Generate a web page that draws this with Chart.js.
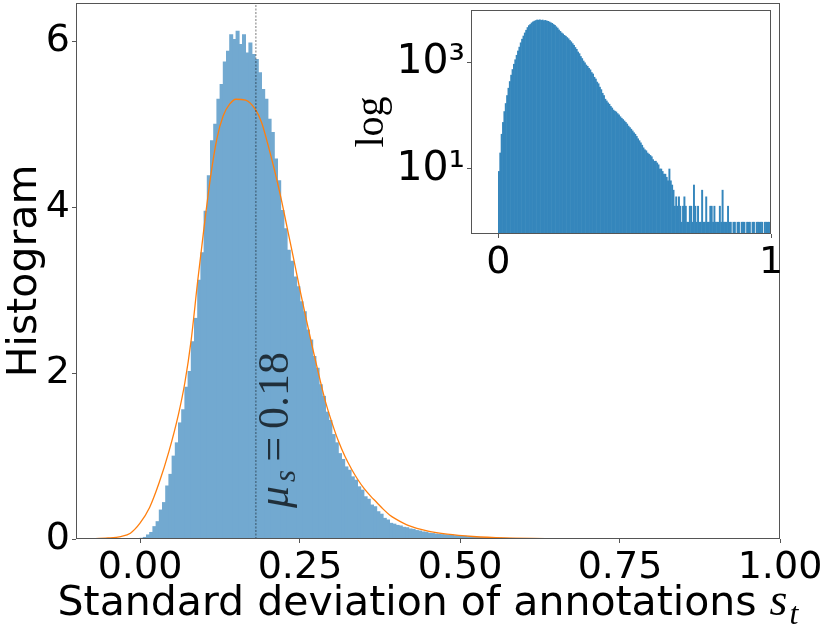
<!DOCTYPE html>
<html>
<head>
<meta charset="utf-8">
<script src="https://cdn.jsdelivr.net/npm/chart.js@4/dist/chart.umd.min.js"></script>
<style>
  html, body { margin: 0; padding: 0; background: #fff; }
  #wrap { position: relative; width: 830px; height: 629px; }
  #main { position: absolute; left: 0; top: 0; }
  #inset { position: absolute; left: 350px; top: 0; }
</style>
</head>
<body>
<div id="wrap">
  <canvas id="main" width="830" height="629"></canvas>
  <canvas id="inset" width="480" height="290"></canvas>
</div>
<script>
// histogram bins (width 0.005, starting at 0)
const binStart = 0;
const binWidth = 0.005;

// main panel: normalised histogram (density)
const densityValues = [
  0.01, 0.02, 0.05, 0.08, 0.15, 0.21, 0.35, 0.44, 0.64, 0.78,
  1.00, 1.16, 1.40, 1.56, 1.83, 2.02, 2.38, 2.66, 3.12, 3.45,
  3.95, 4.38, 4.80, 5.00, 5.30, 5.48, 5.75, 5.88, 6.08, 6.02,
  6.12, 5.96, 6.08, 5.86, 5.98, 5.84, 5.78, 5.62, 5.42, 5.30,
  5.06, 4.90, 4.58, 4.32, 3.96, 3.74, 3.48, 3.35, 3.16, 3.04,
  2.86, 2.74, 2.52, 2.40, 2.20, 2.06, 1.86, 1.72, 1.53, 1.43,
  1.26, 1.16, 1.03, 0.96, 0.87, 0.83, 0.75, 0.71, 0.63, 0.59,
  0.51, 0.48, 0.41, 0.39, 0.33, 0.30, 0.25, 0.23, 0.19, 0.18,
  0.165, 0.158, 0.142, 0.137, 0.122, 0.117, 0.103, 0.097, 0.086, 0.082,
  0.071, 0.067, 0.061, 0.059, 0.054, 0.052, 0.047, 0.046, 0.041, 0.040,
  0.035, 0.034, 0.029, 0.028, 0.024, 0.023, 0.020, 0.018, 0.016, 0.015,
  0.013, 0.012, 0.011, 0.010, 0.009, 0.008, 0.008, 0.007, 0.006, 0.006,
  0.005, 0.005, 0.004, 0.004, 0.004, 0.003, 0.003, 0.003, 0.002, 0.002,
  0.002, 0.002, 0.001, 0.002, 0.001, 0.001, 0.001, 0.001, 0.001, 0.001
];

// inset: raw counts per bin (log scale), null = empty bin
const countValues = [
  9, 20, 45, 75, 120, 170, 240, 330, 440, 580,
  740, 930, 1130, 1370, 1650, 1950, 2350, 2750, 3150, 3600,
  4050, 4550, 4950, 5200, 5550, 5800, 6000, 6150, 6300, 6250,
  6350, 6200, 6300, 6100, 6200, 6050, 5950, 5800, 5600, 5450,
  5200, 5000, 4700, 4450, 4100, 3850, 3600, 3450, 3250, 3120,
  2950, 2800, 2600, 2450, 2270, 2110, 1920, 1770, 1580, 1470,
  1300, 1190, 1070, 990, 900, 850, 780, 730, 650, 610,
  530, 490, 430, 400, 345, 310, 265, 240, 205, 190,
  175, 165, 150, 140, 128, 122, 118, 110, 104, 96,
  90, 85, 80, 75, 70, 64, 60, 56, 52, 48,
  45, 41, 37, 34, 31, 28, 25, 23, 22, 20,
  19, 18, 17, 15, 14, 14, 13, 12, 10, 10,
  9, 8, 8, 7, 6, 10, 6, 5, 4, 2,
  3, 2, 3, 2, 1, 2, 3, 2, 1, 1,
  2, 2, 1, 5, 2, 1, 2, 1, 1, 4,
  1, 1, 3, 1, 1, 2, 2, 1, 2, 1,
  1, 1, 2, 1, 4, 1, 1, 1, 2, 1,
  1, null, 1, 1, null, 1, 1, null, 1, 1,
  1, null, 1, 1, 1, null, 1, 1, null, 1,
  1, 1, 1, 1, null, 1, 1, 1, 1, 1
];

// fitted density curve (orange)
const fitX = [-0.1, -0.075, -0.05, -0.03, -0.015, 0, 0.015, 0.03, 0.045, 0.06,
  0.07, 0.08, 0.09, 0.1, 0.11, 0.12, 0.13, 0.14, 0.15, 0.165,
  0.18, 0.19, 0.2, 0.21, 0.22, 0.23, 0.24, 0.25, 0.26, 0.27,
  0.28, 0.29, 0.3, 0.31, 0.32, 0.33, 0.34, 0.35, 0.36, 0.37,
  0.38, 0.39, 0.4, 0.42, 0.45, 0.48, 0.52, 0.57, 0.65, 0.75, 1.0];
const fitY = [0, 0.004, 0.012, 0.03, 0.07, 0.19, 0.38, 0.68, 1.05, 1.5,
  1.88, 2.4, 3.1, 3.75, 4.35, 4.82, 5.1, 5.24, 5.3, 5.29,
  5.18, 5.02, 4.75, 4.45, 4.12, 3.75, 3.38, 3.0, 2.64, 2.29,
  1.96, 1.65, 1.4, 1.18, 1.0, 0.85, 0.72, 0.61, 0.52, 0.44,
  0.36, 0.29, 0.24, 0.16, 0.095, 0.058, 0.03, 0.012, 0.004, 0.001, 0];

const meanValue = 0.181;
const meanLabel = '0.18';

const xTicks = [0, 0.25, 0.5, 0.75, 1.0];
const xTickLabels = ['0.00', '0.25', '0.50', '0.75', '1.00'];
const yTicks = [0, 2, 4, 6];
const yTickLabels = ['0', '2', '4', '6'];
const insetXTicks = [0, 1];
const insetXTickLabels = ['0', '1'];
const insetYTicks = [10, 1000];
const insetYTickLabels = ['10\u00B9', '10\u00B3'];

const SANS = '"DejaVu Sans"';
const SERIF = '"Liberation Serif"';
const FRAME = '#555';

function binPoints(values) {
  return values.map((v, i) => ({x: binStart + (i + 0.5) * binWidth, y: v}));
}

const framePlugin = {
  id: 'frame',
  beforeDraw(chart) {
    if (!chart.options.plugins.frame.fillWhite) return;
    const a = chart.chartArea;
    chart.ctx.save();
    chart.ctx.fillStyle = '#fff';
    chart.ctx.fillRect(a.left, a.top, a.right - a.left, a.bottom - a.top);
    chart.ctx.restore();
  },
  afterDraw(chart) {
    const a = chart.chartArea;
    const ctx = chart.ctx;
    ctx.save();
    ctx.strokeStyle = FRAME;
    ctx.lineWidth = 1;
    ctx.strokeRect(a.left + 0.5, a.top + 0.5, a.right - a.left - 1, a.bottom - a.top - 1);
    ctx.restore();
  }
};

const mainText = {
  id: 'mainText',
  afterDraw(chart) {
    const {ctx, chartArea: a, scales} = chart;
    ctx.save();
    ctx.fillStyle = '#000';

    // y title
    ctx.save();
    ctx.translate(36, (a.top + a.bottom) / 2);
    ctx.rotate(-Math.PI / 2);
    ctx.font = '41px ' + SANS;
    ctx.textAlign = 'center';
    ctx.textBaseline = 'alphabetic';
    ctx.fillText('Histogram', 0, 0);
    ctx.restore();

    // x title with math s_t
    const t1 = 'Standard deviation of annotations ';
    ctx.font = '41px ' + SANS;
    const w1 = ctx.measureText(t1).width;
    ctx.font = 'italic 46px ' + SERIF;
    const w2 = ctx.measureText('s').width;
    ctx.font = 'italic 32px ' + SERIF;
    const w3 = ctx.measureText('t').width;
    const total = w1 + w2 + 2 + w3;
    let x = (a.left + a.right) / 2 - total / 2;
    const base = 615;
    ctx.textBaseline = 'alphabetic';
    ctx.textAlign = 'left';
    ctx.font = '41px ' + SANS;
    ctx.fillText(t1, x, base);
    x += w1;
    ctx.font = 'italic 46px ' + SERIF;
    ctx.fillText('s', x, base);
    x += w2 + 2;
    ctx.font = 'italic 32px ' + SERIF;
    ctx.fillText('t', x, base + 9);

    // mean annotation, rotated
    ctx.save();
    ctx.translate(scales.x.getPixelForValue(meanValue) + 32, scales.y.getPixelForValue(0) - 31);
    ctx.rotate(-Math.PI / 2);
    ctx.fillStyle = 'rgba(0,0,0,0.72)';
    ctx.textAlign = 'left';
    let p = 0;
    ctx.font = 'italic 44px ' + SERIF;
    ctx.fillText('\u03BC', p, 0);
    p += ctx.measureText('\u03BC').width + 4;
    ctx.font = 'italic 31px ' + SERIF;
    ctx.fillText('s', p, 7);
    p += ctx.measureText('s').width + 8;
    ctx.font = '44px ' + SERIF;
    ctx.fillText('=', p, 0);
    p += ctx.measureText('=').width + 8;
    ctx.fillText(meanLabel, p, 0);
    ctx.restore();

    ctx.restore();
  }
};

const insetText = {
  id: 'insetText',
  afterDraw(chart) {
    const {ctx, chartArea: a} = chart;
    ctx.save();
    ctx.translate(33, (a.top + a.bottom) / 2);
    ctx.rotate(-Math.PI / 2);
    ctx.font = '40px ' + SERIF;
    ctx.textAlign = 'center';
    ctx.fillStyle = '#000';
    ctx.fillText('log', 0, 0);
    ctx.restore();
  }
};

function fitX_(h) {
  return s => { s.height = h; s.paddingLeft = 0; s.paddingRight = 0; };
}
function fitY_(w) {
  return s => { s.width = w; s.paddingTop = 0; s.paddingBottom = 0; };
}

Chart.defaults.font.family = SANS;
Chart.defaults.color = '#000';

new Chart(document.getElementById('main').getContext('2d'), {
  type: 'bar',
  data: {
    datasets: [
      {
        type: 'line',
        data: [{x: meanValue, y: 0}, {x: meanValue, y: 6.46}],
        borderColor: 'rgba(0,0,0,0.35)',
        borderWidth: 1.5,
        borderDash: [2, 1.5],
        pointRadius: 0,
        order: 1
      },
      {
        type: 'line',
        data: fitX.map((x, i) => ({x: x, y: fitY[i]})),
        borderColor: '#ff7f0e',
        borderWidth: 1.3,
        pointRadius: 0,
        cubicInterpolationMode: 'monotone',
        order: 2
      },
      {
        type: 'bar',
        data: binPoints(densityValues),
        backgroundColor: '#72a9d0',
        borderWidth: 0,
        inflateAmount: 0.4,
        barPercentage: 1,
        categoryPercentage: 1,
        order: 3
      }
    ]
  },
  options: {
    responsive: false,
    animation: false,
    events: [],
    layout: {padding: {top: 3, right: 50, left: 0, bottom: 0}},
    plugins: {legend: {display: false}, tooltip: {enabled: false}, frame: {fillWhite: false}},
    scales: {
      x: {
        type: 'linear',
        min: -0.1,
        max: 1.0,
        offset: false,
        afterBuildTicks: s => { s.ticks = xTicks.map(v => ({value: v})); },
        afterFit: fitX_(90),
        ticks: {
          callback: (v, i) => xTickLabels[i],
          font: {size: 38},
          color: '#000',
          maxRotation: 0,
          minRotation: 0,
          autoSkip: false,
          padding: 2
        },
        grid: {drawOnChartArea: false, drawTicks: true, tickLength: 4, color: FRAME, offset: false},
        border: {display: false}
      },
      y: {
        type: 'linear',
        min: 0,
        max: 6.46,
        afterBuildTicks: s => { s.ticks = yTicks.map(v => ({value: v})); },
        afterFit: fitY_(76),
        ticks: {
          callback: (v, i) => yTickLabels[i],
          font: {size: 38},
          color: '#000',
          autoSkip: false,
          padding: 2
        },
        grid: {drawOnChartArea: false, drawTicks: true, tickLength: 4, color: FRAME},
        border: {display: false}
      }
    }
  },
  plugins: [framePlugin, mainText]
});

new Chart(document.getElementById('inset').getContext('2d'), {
  type: 'bar',
  data: {
    datasets: [{
      data: binPoints(countValues),
      backgroundColor: '#3586bc',
      borderWidth: 0,
      inflateAmount: 0.3,
      barPercentage: 1,
      categoryPercentage: 1
    }]
  },
  options: {
    responsive: false,
    animation: false,
    events: [],
    layout: {padding: {top: 10, right: 59, left: 0, bottom: 0}},
    plugins: {legend: {display: false}, tooltip: {enabled: false}, frame: {fillWhite: true}},
    scales: {
      x: {
        type: 'linear',
        min: -0.1,
        max: 1.0,
        offset: false,
        afterBuildTicks: s => { s.ticks = insetXTicks.map(v => ({value: v})); },
        afterFit: fitX_(56),
        ticks: {
          callback: (v, i) => insetXTickLabels[i],
          font: {size: 38},
          color: '#000',
          maxRotation: 0,
          minRotation: 0,
          autoSkip: false,
          padding: 2
        },
        grid: {drawOnChartArea: false, drawTicks: true, tickLength: 4, color: FRAME, offset: false},
        border: {display: false}
      },
      y: {
        type: 'logarithmic',
        min: 0.64,
        max: 9700,
        afterBuildTicks: s => { s.ticks = insetYTicks.map(v => ({value: v})); },
        afterFit: fitY_(121),
        ticks: {
          callback: (v, i) => insetYTickLabels[i],
          font: {size: 41},
          color: '#000',
          autoSkip: false,
          padding: 2
        },
        grid: {drawOnChartArea: false, drawTicks: true, tickLength: 4, color: FRAME},
        border: {display: false}
      }
    }
  },
  plugins: [framePlugin, insetText]
});
</script>
</body>
</html>
